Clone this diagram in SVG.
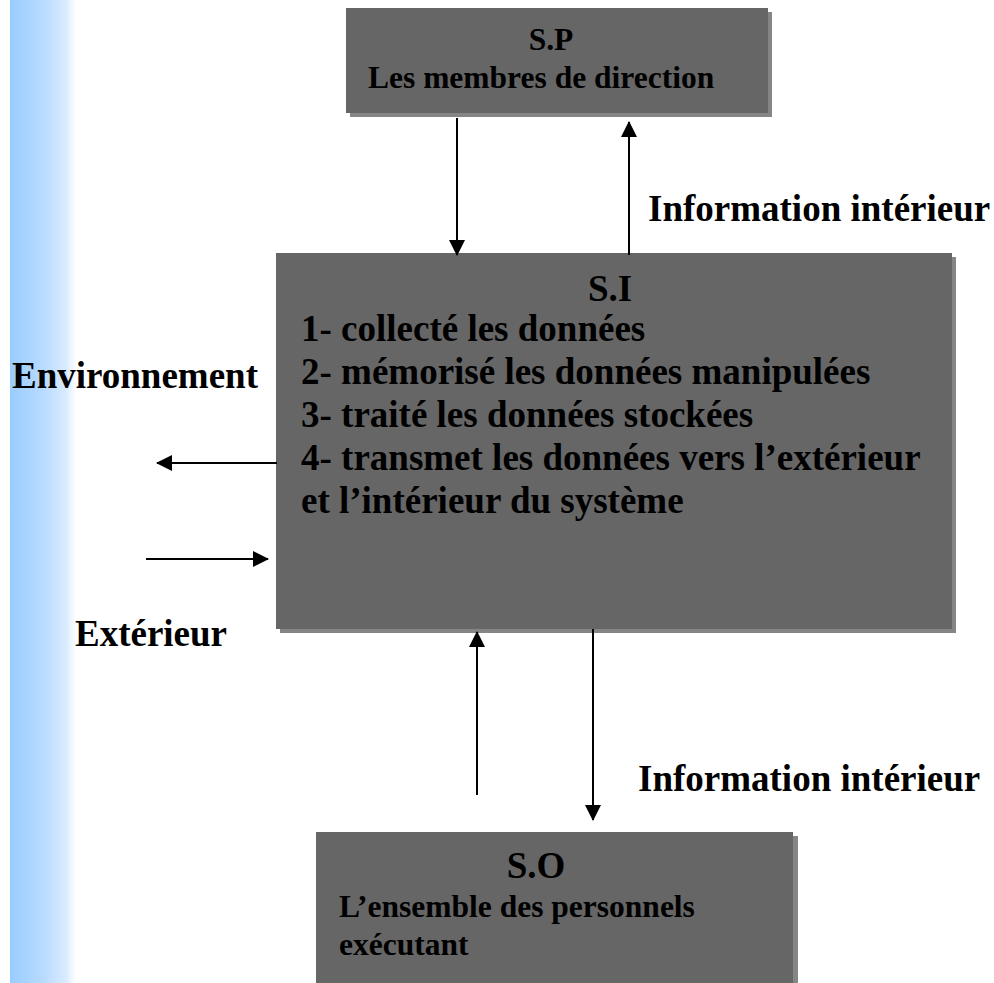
<svg xmlns="http://www.w3.org/2000/svg" width="994" height="983" viewBox="0 0 994 983">
  <defs>
    <linearGradient id="sideBar" x1="0" y1="0" x2="1" y2="0">
      <stop offset="0" stop-color="#99ccff"/>
      <stop offset="0.5" stop-color="#b8dbff"/>
      <stop offset="0.85" stop-color="#d8ebff"/>
      <stop offset="1" stop-color="#ffffff"/>
    </linearGradient>
    <marker id="arrow" viewBox="0 0 16 16" refX="15" refY="8" markerWidth="16" markerHeight="16" markerUnits="userSpaceOnUse" orient="auto">
      <path d="M0,0 L16,8 L0,16 Z" fill="#000"/>
    </marker>
  </defs>
  <style>
    text { font-family: "Liberation Serif", "Times New Roman", serif; font-weight: bold; fill: #000; }
    .big { font-size: 37px; }
    .small { font-size: 31.5px; }
    .box { fill: #666666; }
    .shadow { fill: #858585; }
    .conn line { stroke: #000; stroke-width: 2; marker-end: url(#arrow); }
  </style>

  <rect width="994" height="983" fill="#ffffff"/>
  <!-- left decorative band -->
  <rect x="10" y="0" width="66" height="983" fill="url(#sideBar)"/>

  <g id="node-sp">
    <rect class="shadow" x="350" y="12" width="422" height="105"/>
    <rect class="box" x="346" y="8" width="422" height="105"/>
    <text class="small" x="551" y="50" text-anchor="middle">S.P</text>
    <text class="small" x="368" y="88">Les membres de direction</text>
  </g>

  <g id="node-si">
    <rect class="shadow" x="280" y="257" width="676" height="376"/>
    <rect class="box" x="276" y="253" width="676" height="376"/>
    <text class="big" x="610" y="301" text-anchor="middle">S.I</text>
    <text class="big" x="301" y="341">1- collecté les données</text>
    <text class="big" x="301" y="384">2- mémorisé les données manipulées</text>
    <text class="big" x="301" y="427">3- traité les données stockées</text>
    <text class="big" x="301" y="470">4- transmet les données vers l’extérieur</text>
    <text class="big" x="301" y="513">et l’intérieur du système</text>
  </g>

  <g id="node-so">
    <rect class="shadow" x="320" y="836" width="478" height="160"/>
    <rect class="box" x="316" y="832" width="477" height="160"/>
    <text class="big" x="536" y="878" text-anchor="middle">S.O</text>
    <text class="small" x="339" y="917">L’ensemble des personnels</text>
    <text class="small" x="339" y="955">exécutant</text>
  </g>

  <g id="connectors" class="conn">
    <line x1="457" y1="118" x2="457" y2="255"/>
    <line x1="629" y1="255" x2="629" y2="122"/>
    <line x1="277" y1="463" x2="157" y2="463"/>
    <line x1="146" y1="559" x2="268" y2="559"/>
    <line x1="477" y1="795" x2="477" y2="632"/>
    <line x1="593" y1="629" x2="593" y2="820"/>
  </g>

  <g id="labels">
    <text class="big" x="648" y="221">Information intérieur</text>
    <text class="big" x="12" y="388">Environnement</text>
    <text class="big" x="75" y="646">Extérieur</text>
    <text class="big" x="638" y="791">Information intérieur</text>
  </g>
</svg>
